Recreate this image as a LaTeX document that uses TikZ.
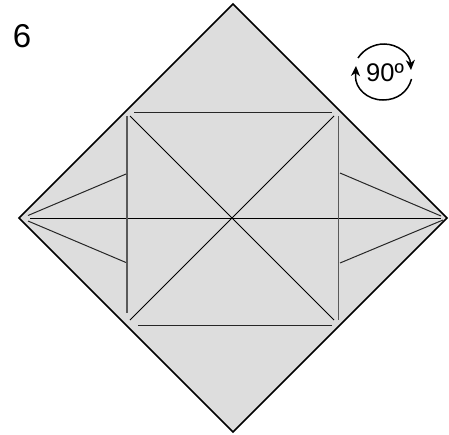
\documentclass[tikz,border=0pt]{standalone}
\usepackage{fontspec}
\setmainfont{Liberation Sans}
\usetikzlibrary{arrows.meta}
\definecolor{paper}{HTML}{DDDDDD}
\tikzset{
  x=1pt,y=-1pt,
  outline/.style={draw=black,line width=1.7pt,line join=miter,fill=paper},
  crease/.style={draw=black!85,line width=1pt},
  edgeline/.style={draw=black!65,line width=1.3pt},
  turn/.style={draw=black,line width=1.5pt,-{Stealth[length=10pt,width=9pt,inset=3pt]}},
  lbl/.style={inner sep=0pt,font=\fontsize{25.5pt}{25.5pt}\selectfont,anchor=center}
}
\begin{document}
\begin{tikzpicture}
\useasboundingbox (0,0) rectangle (449,434);
\coordinate (T) at (233,4);
\coordinate (L) at (19,218);
\coordinate (B) at (233,432);
\coordinate (R) at (447,218);
\path[outline] (T) -- (R) -- (B) -- (L) -- cycle;
% horizontal creases
\coordinate (h1) at (30,218.5); \coordinate (h2) at (441,218.5);
\draw[crease,draw=black] (h1) -- (h2);
\coordinate (t1) at (134,112.5); \coordinate (t2) at (332,112.5);
\draw[crease] (t1) -- (t2);
\coordinate (b1) at (138,325.5); \coordinate (b2) at (332,325.5);
\draw[crease] (b1) -- (b2);
% verticals
\coordinate (v1) at (127,116); \coordinate (v2) at (127,313);
\draw[edgeline] (v1) -- (v2);
\coordinate (v3) at (338.5,116); \coordinate (v4) at (338.5,320);
\draw[edgeline] (v3) -- (v4);
% diagonals
\coordinate (d1) at (130,116); \coordinate (d2) at (334,320);
\draw[crease,draw=black] (d1) -- (d2);
\coordinate (d3) at (334,116); \coordinate (d4) at (130,320);
\draw[crease,draw=black] (d3) -- (d4);
% side creases
\coordinate (s1) at (28,215.5); \coordinate (s2) at (126,174);
\draw[crease] (s1) -- (s2);
\coordinate (s3) at (28,221); \coordinate (s4) at (126,262.5);
\draw[crease] (s3) -- (s4);
\coordinate (s5) at (340,173); \coordinate (s6) at (441,216);
\draw[crease] (s5) -- (s6);
\coordinate (s7) at (340,263); \coordinate (s8) at (443,220);
\draw[crease] (s7) -- (s8);
% labels
\node[lbl,font=\fontsize{33pt}{33pt}\selectfont] (six) at (22,36) {6};
\node[lbl] (ninety) at (385,73) {90º};
% rotation arrows
\coordinate (a1) at (358,58);
\coordinate (a2) at (411,70);
\coordinate (a3) at (411.5,79);
\coordinate (a4) at (356,66);
\draw[turn] (a1) .. controls (364,49) and (374,44) .. (384,44) .. controls (398,44) and (410,54) .. (a2);
\draw[turn] (a3) .. controls (408,92) and (397,100) .. (383,100) .. controls (367,100) and (355,88) .. (355.5,76) -- (a4);
\end{tikzpicture}
\end{document}
